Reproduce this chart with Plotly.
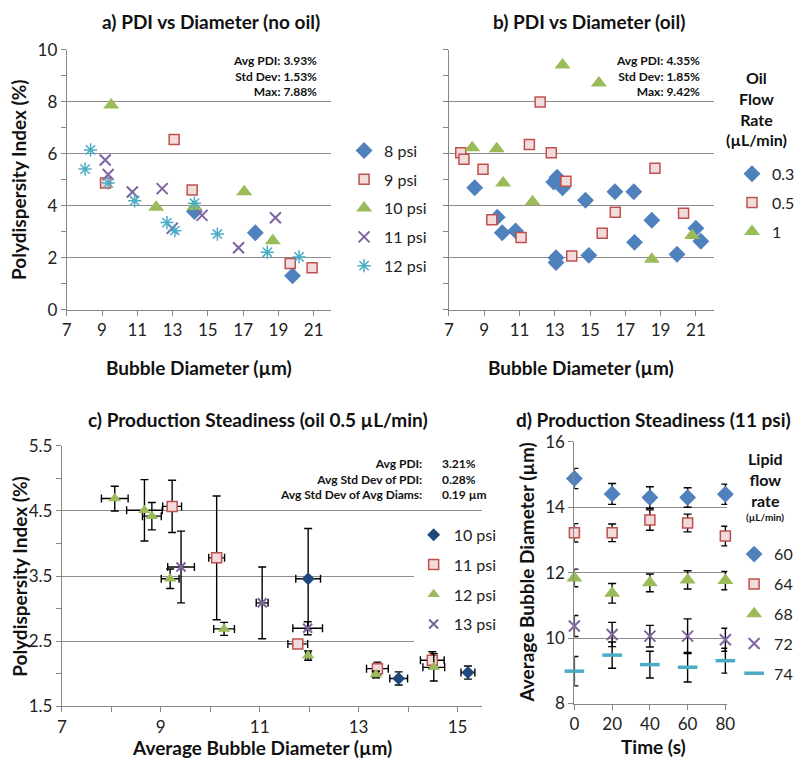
import plotly.graph_objects as go

# ---- a) PDI vs diameter, no oil ----
a_8psi_x = [14.24, 17.69, 19.80]
a_8psi_y = [3.78, 2.96, 1.30]
a_9psi_x = [9.20, 13.09, 14.11, 19.67, 20.91]
a_9psi_y = [4.88, 6.55, 4.61, 1.78, 1.61]
a_10psi_x = [9.52, 12.07, 14.24, 17.06, 18.68]
a_10psi_y = [7.88, 3.94, 3.97, 4.54, 2.65]
a_11psi_x = [9.18, 9.35, 10.72, 12.41, 12.98, 14.67, 16.74, 18.83]
a_11psi_y = [5.76, 5.20, 4.53, 4.66, 3.13, 3.63, 2.38, 3.54]
a_12psi_x = [8.04, 8.35, 9.35, 10.85, 12.68, 13.13, 14.24, 15.54, 18.37, 20.17]
a_12psi_y = [5.41, 6.15, 4.88, 4.19, 3.35, 3.04, 4.10, 2.91, 2.21, 2.03]

# ---- b) PDI vs diameter, oil ----
b_03_x = [8.46, 9.74, 10.02, 10.78, 12.94, 13.13, 13.44, 13.07, 13.07, 14.74,
          14.93, 16.41, 17.48, 17.52, 18.50, 19.93, 21.00, 21.28]
b_03_y = [4.69, 3.56, 2.96, 3.03, 4.91, 5.10, 4.69, 2.00, 1.81, 4.21,
          2.09, 4.54, 4.54, 2.59, 3.44, 2.13, 3.13, 2.63]
b_05_x = [7.67, 7.85, 8.93, 9.43, 11.09, 11.56, 12.17, 12.80, 13.63, 13.96,
          15.69, 16.43, 18.68, 20.30]
b_05_y = [6.04, 5.79, 5.40, 3.46, 2.78, 6.36, 7.99, 6.04, 4.94, 2.06,
          2.94, 3.75, 5.44, 3.71]
b_1_x = [8.32, 9.71, 10.07, 11.74, 13.44, 15.50, 18.50, 20.78]
b_1_y = [6.23, 6.19, 4.88, 4.15, 9.42, 8.73, 1.94, 2.85]

# ---- c) production steadiness, oil 0.5 uL/min ----
c_10psi_x = [11.98, 13.81, 15.21]
c_10psi_y = [3.46, 1.93, 2.02]
c_10psi_xerr = [0.25, 0.18, 0.14]
c_10psi_yerr = [0.77, 0.10, 0.10]
c_11psi_x = [9.23, 10.13, 11.77, 13.38, 14.49]
c_11psi_y = [4.57, 3.78, 2.46, 2.08, 2.21]
c_11psi_xerr = [0.19, 0.16, 0.20, 0.22, 0.24]
c_11psi_yerr = [0.40, 0.95, 0.06, 0.10, 0.13]
c_12psi_x = [8.07, 8.67, 8.82, 9.19, 10.28, 11.98, 13.35, 14.52]
c_12psi_y = [4.69, 4.51, 4.42, 3.46, 2.69, 2.28, 1.99, 2.10]
c_12psi_xerr = [0.27, 0.36, 0.19, 0.18, 0.21, 0.05, 0.05, 0.22]
c_12psi_yerr = [0.19, 0.47, 0.21, 0.15, 0.10, 0.07, 0.05, 0.21]
c_13psi_x = [9.41, 11.05, 11.97]
c_13psi_y = [3.64, 3.09, 2.70]
c_13psi_xerr = [0.27, 0.12, 0.30]
c_13psi_yerr = [0.55, 0.55, 0.10]

# ---- d) production steadiness, 11 psi ----
d_time = [0, 20, 40, 60, 80]
d_60 = [14.88, 14.41, 14.30, 14.30, 14.40]
d_60_err = [0.31, 0.32, 0.33, 0.30, 0.31]
d_64 = [13.22, 13.22, 13.61, 13.52, 13.12]
d_64_err = [0.28, 0.27, 0.31, 0.27, 0.30]
d_68 = [11.84, 11.37, 11.69, 11.78, 11.76]
d_68_err = [0.27, 0.30, 0.27, 0.28, 0.28]
d_72 = [10.37, 10.11, 10.06, 10.06, 9.95]
d_72_err = [0.32, 0.37, 0.33, 0.53, 0.35]
d_74 = [8.99, 9.48, 9.19, 9.11, 9.31]
d_74_err = [0.45, 0.40, 0.41, 0.45, 0.38]

FONT = 'Lato'
BLUE = '#4F81BD'
NAVY = '#1F497D'
RED = '#C0504D'
PINK = '#F2DCDB'
GREEN = '#9BBB59'
PURPLE = '#8064A2'
CYAN = '#4BACC6'
GRID = '#8c8c8c'

W, H = 800, 768


def px(x):
    return x / W


def py(y):
    return 1 - y / H


MARKERS = {
    'diamond': dict(symbol='diamond', size=13, color=BLUE, line=dict(width=0)),
    'navy': dict(symbol='diamond', size=10, color=NAVY, line=dict(width=0)),
    'square': dict(symbol='square', size=10, color=PINK, line=dict(color=RED, width=1.5)),
    'triangle': dict(symbol='triangle-up', size=14, color=GREEN, line=dict(width=0)),
    'x': dict(symbol='x-thin-open', size=11, color=PURPLE, line=dict(color=PURPLE, width=2)),
    'star': dict(symbol='asterisk-open', size=11, color=CYAN, line=dict(color=CYAN, width=1.5)),
    'dash': dict(symbol='line-ew-open', size=14, color=CYAN, line=dict(color=CYAN, width=3.5)),
}

# panel c uses somewhat smaller symbols
MARKERS_C = {
    'navy': dict(MARKERS['navy']),
    'square': dict(MARKERS['square'], size=10),
    'triangle': dict(MARKERS['triangle'], size=11),
    'x': dict(MARKERS['x'], size=9),
}


def err(arr):
    return dict(type='data', array=arr, color='black', thickness=1.4, width=4)


fig = go.Figure()

# panel a
for name, xs, ys, m in [('8 psi', a_8psi_x, a_8psi_y, 'diamond'),
                        ('9 psi', a_9psi_x, a_9psi_y, 'square'),
                        ('10 psi', a_10psi_x, a_10psi_y, 'triangle'),
                        ('11 psi', a_11psi_x, a_11psi_y, 'x'),
                        ('12 psi', a_12psi_x, a_12psi_y, 'star')]:
    fig.add_trace(go.Scatter(x=xs, y=ys, mode='markers', name=name, marker=MARKERS[m],
                             xaxis='x', yaxis='y', legend='legend', legendgroup='a' + name))

# panel b
for name, xs, ys, m in [('0.3', b_03_x, b_03_y, 'diamond'),
                        ('0.5', b_05_x, b_05_y, 'square'),
                        ('1', b_1_x, b_1_y, 'triangle')]:
    fig.add_trace(go.Scatter(x=xs, y=ys, mode='markers', name=name, marker=MARKERS[m],
                             xaxis='x2', yaxis='y2', legend='legend2', legendgroup='b' + name))

# panel c
for name, xs, ys, xe, ye, m in [('10 psi', c_10psi_x, c_10psi_y, c_10psi_xerr, c_10psi_yerr, 'navy'),
                                ('11 psi', c_11psi_x, c_11psi_y, c_11psi_xerr, c_11psi_yerr, 'square'),
                                ('12 psi', c_12psi_x, c_12psi_y, c_12psi_xerr, c_12psi_yerr, 'triangle'),
                                ('13 psi', c_13psi_x, c_13psi_y, c_13psi_xerr, c_13psi_yerr, 'x')]:
    fig.add_trace(go.Scatter(x=xs, y=ys, mode='markers', name=name, marker=MARKERS_C[m],
                             error_x=err(xe), error_y=err(ye),
                             xaxis='x3', yaxis='y3', legend='legend3', legendgroup='c' + name))

# panel d
for name, ys, ye, m in [('60', d_60, d_60_err, 'diamond'),
                        ('64', d_64, d_64_err, 'square'),
                        ('68', d_68, d_68_err, 'triangle'),
                        ('72', d_72, d_72_err, 'x'),
                        ('74', d_74, d_74_err, 'dash')]:
    fig.add_trace(go.Scatter(x=d_time, y=ys, mode='markers', name=name, marker=MARKERS[m],
                             error_y=err(ye), cliponaxis=False,
                             xaxis='x4', yaxis='y4', legend='legend4', legendgroup='d' + name))


def ax(**kw):
    base = dict(showline=True, linecolor='#868686', linewidth=1, ticks='outside',
                tickcolor='#868686', ticklen=5, showgrid=False, zeroline=False,
                tickfont=dict(family=FONT, size=17, color='#222'))
    base.update(kw)
    return base


minor_y = dict(ticks='outside', ticklen=5, tickcolor='#868686', showgrid=False)

fig.update_layout(
    width=W, height=H,
    margin=dict(l=0, r=0, t=0, b=0),
    paper_bgcolor='white', plot_bgcolor='white',
    font=dict(family=FONT, color='#222'),
    xaxis=ax(domain=[px(63), px(333)], range=[7, 22], tick0=7, dtick=2, anchor='y'),
    yaxis=ax(domain=[py(307), py(40)], range=[0, 10], dtick=2, showgrid=True,
             gridcolor=GRID, minor=dict(dtick=1, **minor_y), anchor='x'),
    xaxis2=ax(domain=[px(453), px(723)], range=[7, 22], tick0=7, dtick=2, anchor='y2'),
    yaxis2=ax(domain=[py(307), py(40)], range=[0, 10], dtick=2, showgrid=True,
              gridcolor=GRID, showticklabels=False, minor=dict(dtick=1, **minor_y), anchor='x2'),
    xaxis3=ax(domain=[px(58), px(487)], range=[7, 15.5], tick0=7, dtick=2,
              minor=dict(dtick=1, ticks='outside', ticklen=5, tickcolor='#868686'), anchor='y3'),
    yaxis3=ax(domain=[py(715), py(447)], range=[1.5, 5.5], tick0=1.5, dtick=1, showgrid=True,
              gridcolor=GRID, tickformat='.1f', minor=dict(dtick=0.5, **minor_y), anchor='x3'),
    xaxis4=ax(domain=[px(581), px(737)], range=[0, 81], tick0=0, dtick=20, anchor='y4'),
    yaxis4=ax(domain=[py(712), py(443)], range=[8, 16], dtick=2, showgrid=True,
              gridcolor=GRID, anchor='x4'),
)

leg_font = dict(family=FONT, size=16, color='#222')
common = dict(xanchor='left', yanchor='top', bgcolor='rgba(0,0,0,0)', font=leg_font,
              tracegroupgap=5, itemwidth=30)
fig.update_layout(
    legend=dict(x=px(346), y=py(126), **common),
    legend2=dict(x=px(742), y=py(150), **common),
    legend3=dict(x=px(417), y=py(521), **{**common, 'bgcolor': 'white', 'tracegroupgap': 6}),
    legend4=dict(x=px(744), y=py(541), **{**common, 'tracegroupgap': 6}),
)

annotations = []


def text(x, y, s, size=15, bold=True, xanchor='center', yanchor='middle', angle=0, align='center'):
    annotations.append(dict(x=px(x), y=py(y), xref='paper', yref='paper', text=('<b>%s</b>' % s) if bold else s,
                            showarrow=False, xanchor=xanchor, yanchor=yanchor, textangle=angle,
                            align=align, font=dict(family=FONT, size=size, color='#111')))


# panel titles
text(210, 11, 'a) PDI vs Diameter (no oil)', size=19)
text(596, 11, 'b) PDI vs Diameter (oil)', size=19)
text(258, 420, 'c) Production Steadiness (oil 0.5 µL/min)', size=19)
text(662, 420, 'd) Production Steadiness (11 psi)', size=19)

# axis titles
text(198, 367, 'Bubble Diameter (µm)', size=19)
text(588, 367, 'Bubble Diameter (µm)', size=19)
text(14, 173, 'Polydispersity Index (%)', size=19, angle=-90)
text(14, 581, 'Polydispersity Index (%)', size=19, angle=-90)
text(262, 757, 'Average Bubble Diameter (µm)', size=19)
text(662, 756, 'Time (s)', size=19)
text(532, 577, 'Average Bubble Diameter (µm)', size=19, angle=-90)

# stats boxes
text(320, 67, 'Avg PDI: 3.93%<br>Std Dev: 1.53%<br>Max: 7.88%', size=12, xanchor='right', align='right')
text(711, 67, 'Avg PDI: 4.35%<br>Std Dev: 1.85%<br>Max: 9.42%', size=12, xanchor='right', align='right')
text(428, 481, 'Avg PDI:<br>Avg Std Dev of PDI:<br>Avg Std Dev of Avg Diams:', size=12,
     xanchor='right', align='right')
text(444, 481, '3.21%<br>0.28%<br>0.19 µm', size=12, xanchor='left', align='left')

# legend titles
text(767, 100, 'Oil<br>Flow<br>Rate<br>(µL/min)', size=16)
text(776, 482, 'Lipid<br>flow<br>rate', size=16)
text(776, 520, '(µL/min)', size=10)

fig.update_layout(annotations=annotations)

# drop the default page margin so the 800x768 figure fills the window exactly
fig.write_html('out.html', config={'displayModeBar': False},
               post_script="document.body.style.margin='0';")
